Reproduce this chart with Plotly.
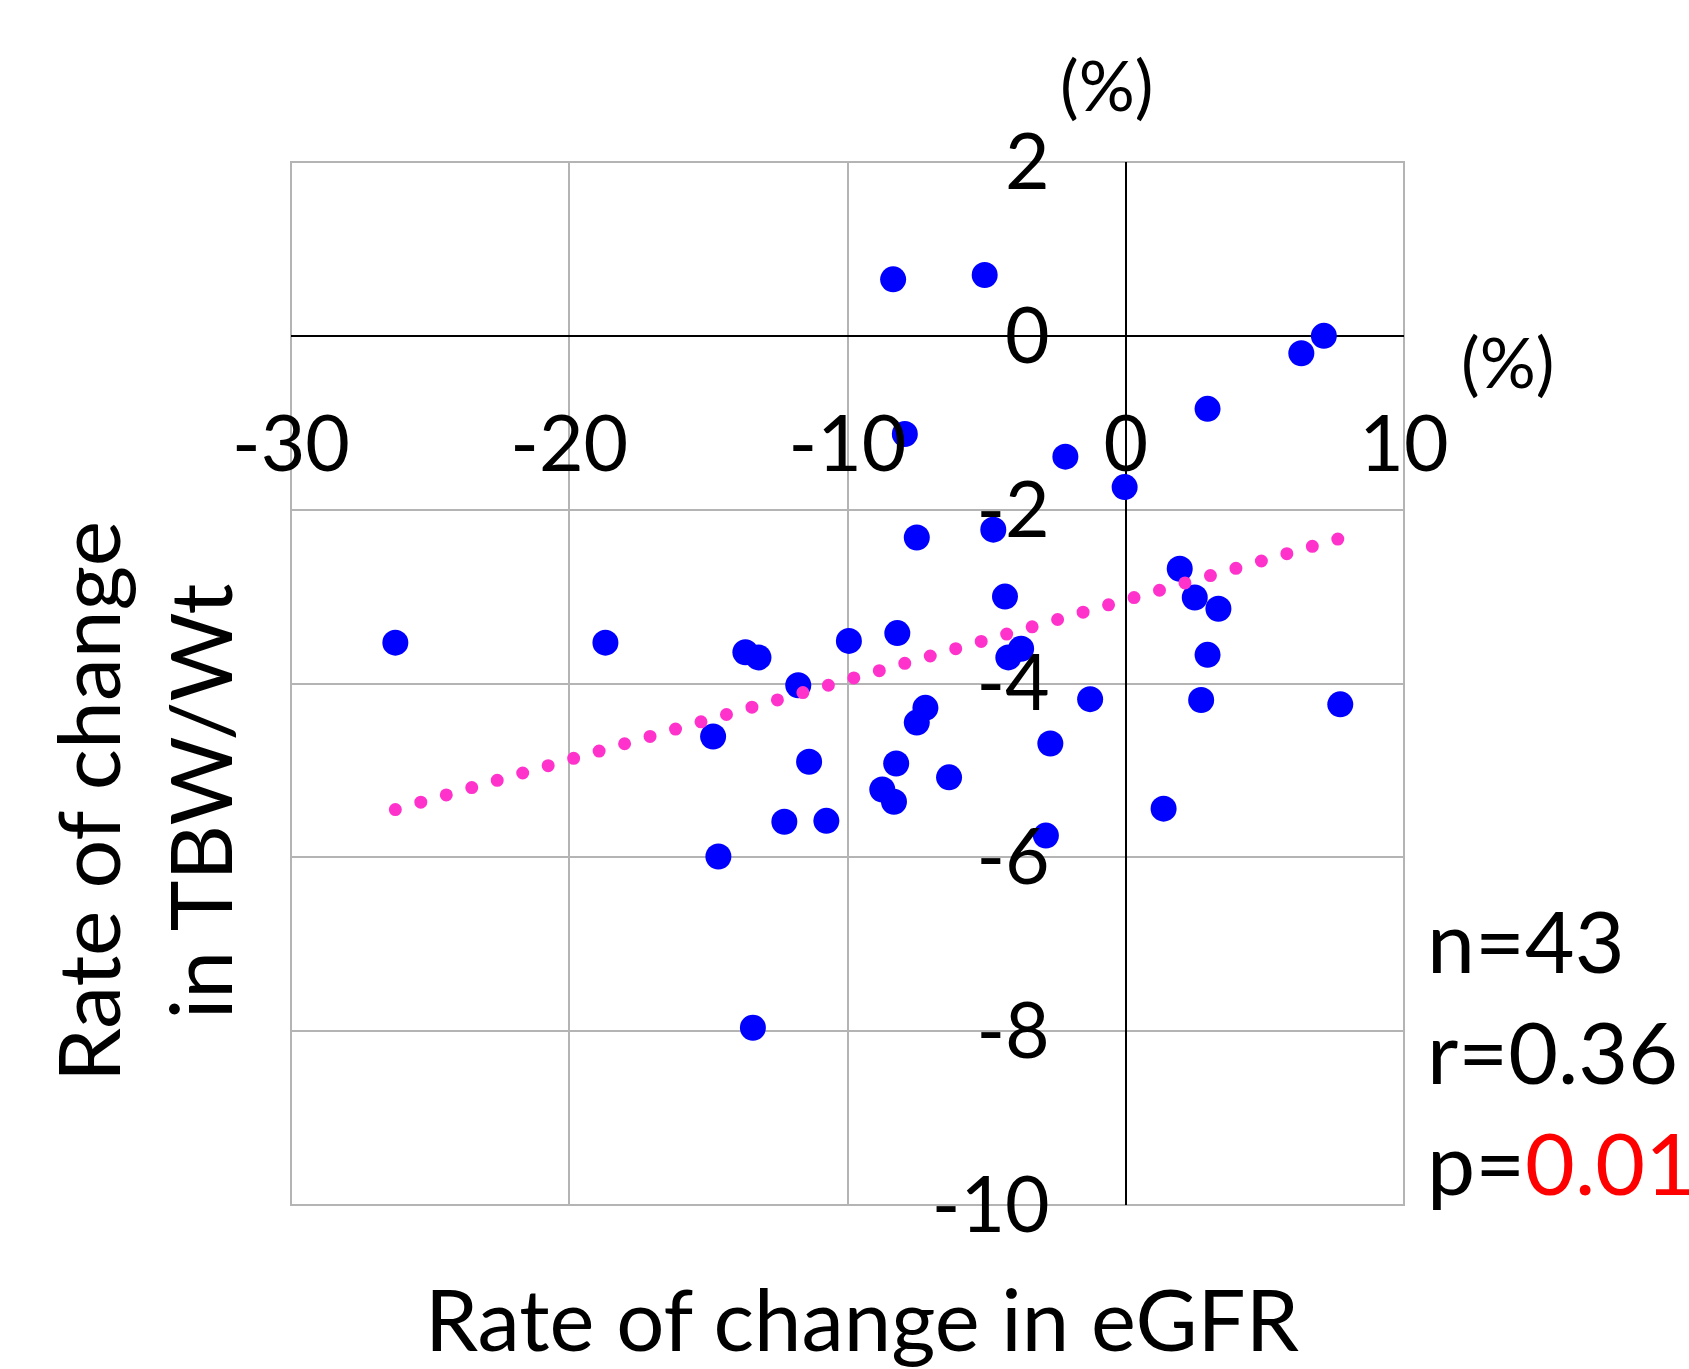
import plotly.graph_objects as go

# Rate of change in eGFR (%)
egfr_change = [-8.36, -5.07, 7.12, 6.31, 2.94, -7.94, -2.17, -0.04, -7.51, -4.76,
               1.94, -4.34, 2.48, 3.33, -26.25, -18.70, -13.67, -13.20, -9.95, -8.21,
               -4.22, -3.76, 2.94, -11.77, -7.20, -7.51, -1.28, 2.71, 7.71, -14.83,
               -2.71, -11.38, -8.25, -6.35, -8.75, -8.33, 1.36, -12.27, -10.76, -2.87,
               -14.64, -13.40]
# Rate of change in TBW/Wt (%)
tbw_change = [0.65, 0.70, 0.00, -0.20, -0.84, -1.13, -1.39, -1.74, -2.32, -2.23,
              -2.68, -3.00, -3.01, -3.14, -3.53, -3.53, -3.64, -3.70, -3.51, -3.42,
              -3.70, -3.60, -3.67, -4.02, -4.28, -4.45, -4.18, -4.19, -4.24, -4.61,
              -4.69, -4.90, -4.92, -5.08, -5.22, -5.36, -5.44, -5.59, -5.58, -5.75,
              -5.99, -7.96]
# regression line end points
trend_x = [-26.25, 7.71]
trend_y = [-5.45, -2.33]

x_ticks = [-30, -20, -10, 0, 10]
y_ticks = [2, 0, -2, -4, -6, -8, -10]
x_range = [-30, 10]
y_range = [-10, 2]

FONT = "Lato"
W, H = 1689, 1369
ml, mr, mt, mb = 291, 285, 162, 164
PW, PH = W - ml - mr, H - mt - mb

fig = go.Figure()
fig.add_trace(go.Scatter(x=egfr_change, y=tbw_change, mode="markers",
                         marker=dict(size=26, color="#0000FF", line=dict(width=0)),
                         showlegend=False))
fig.add_trace(go.Scatter(x=trend_x, y=trend_y, mode="lines",
                         line=dict(color="#FF33CC", width=13, dash="0px,26.5px"),
                         showlegend=False))

xpos = (0 - x_range[0]) / (x_range[1] - x_range[0])
ypos = (0 - y_range[0]) / (y_range[1] - y_range[0])

fig.update_layout(
    width=W, height=H,
    margin=dict(l=ml, r=mr, t=mt, b=mb),
    paper_bgcolor="white", plot_bgcolor="white",
    font=dict(family=FONT, color="black", size=76),
    xaxis=dict(range=x_range, tickvals=x_ticks, ticktext=[str(v) for v in x_ticks],
               anchor="free", position=ypos, side="bottom",
               showgrid=True, gridcolor="#B4B4B4", gridwidth=2,
               zeroline=True, zerolinecolor="black", zerolinewidth=2,
               showline=False, ticks="", ticklabelstandoff=57,
               tickfont=dict(size=77, family=FONT)),
    yaxis=dict(range=y_range, tickvals=y_ticks, ticktext=[str(v) for v in y_ticks],
               anchor="free", position=xpos, side="left",
               showgrid=True, gridcolor="#B4B4B4", gridwidth=2,
               zeroline=True, zerolinecolor="black", zerolinewidth=2,
               showline=False, ticks="", ticklabelstandoff=76,
               tickfont=dict(size=77, family=FONT)),
    shapes=[dict(type="rect", xref="x domain", yref="y domain", x0=0, x1=1, y0=0, y1=1,
                 line=dict(color="#B4B4B4", width=2), layer="below")],
)

def pa(x, y, text, size=86, **kw):
    fig.add_annotation(x=(x - ml) / PW, y=(H - mb - y) / PH, xref="paper", yref="paper",
                       text=text, showarrow=False,
                       font=dict(size=size, family=FONT, color="black"), **kw)

pa(862, 1318, "Rate of change in eGFR", size=85, xanchor="center", yanchor="middle")
pa(143, 802, "Rate of change<br>in TBW/Wt", size=86, xanchor="center", yanchor="middle",
   textangle=-90)
pa(1107, 84, "(%)", size=70, xanchor="center", yanchor="middle")
pa(1508, 361, "(%)", size=70, xanchor="center", yanchor="middle")
pa(1425, 940, "n=43", xanchor="left", yanchor="middle")
pa(1425, 1050, "r=0.36", xanchor="left", yanchor="middle")
pa(1425, 1161, "p=<span style='color:#FF0000'>0.01</span>", xanchor="left", yanchor="middle")

post = ("var gd=document.getElementById('{plot_id}');"
        "gd.querySelectorAll('.js-line').forEach(function(p){p.style.strokeLinecap='round';});")
fig.write_html("out.html", post_script=post)
